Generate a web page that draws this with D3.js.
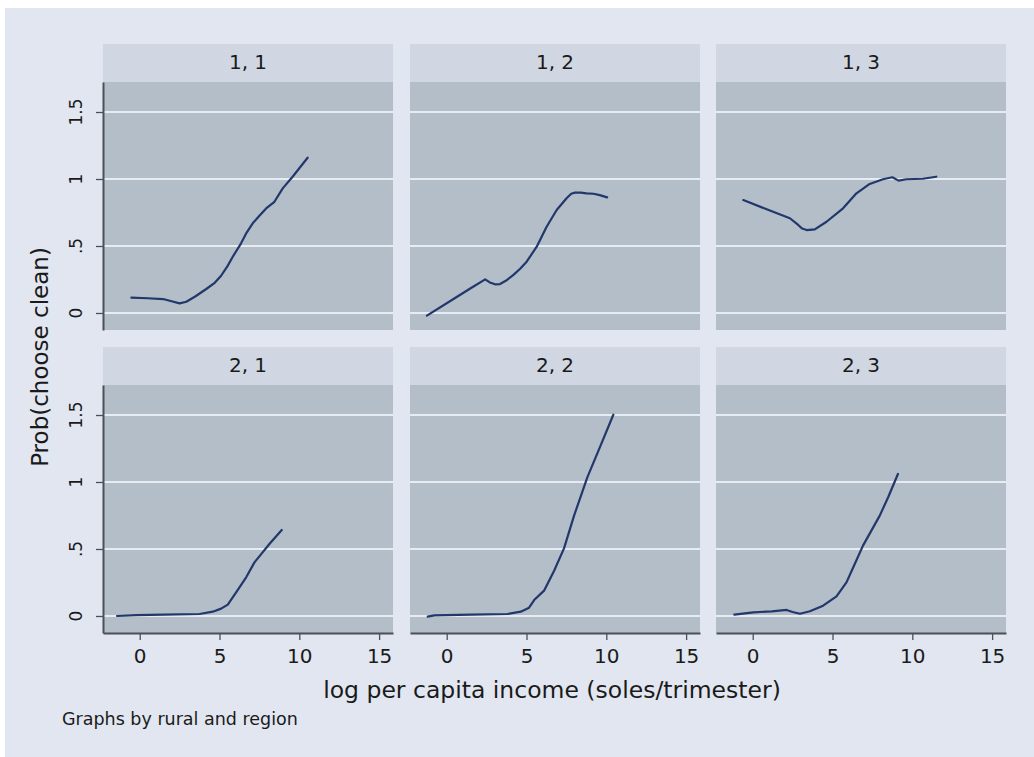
<!DOCTYPE html>
<html>
<head>
<meta charset="utf-8">
<script src="https://cdn.jsdelivr.net/npm/d3@7"></script>
<style>
  html, body { margin: 0; padding: 0; background: #ffffff; }
  svg { display: block; }
  text { font-family: "DejaVu Sans", "Open Sans", sans-serif; fill: #1a1a1a; }
</style>
</head>
<body>
<svg id="chart" width="1034" height="757"></svg>
<script>
// Panel titles: rural, region
const panelLabels = ["1, 1", "1, 2", "1, 3", "2, 1", "2, 2", "2, 3"];

// Axis ticks
const xTicks = [0, 5, 10, 15];
const yTicks = [0, 0.5, 1, 1.5];
const yTickLabels = ["0", ".5", "1", "1.5"];

// Smoothed probability curves, [log income, prob]
const curve11 = [[-0.52,0.114],[0.5,0.11],[1.46,0.104],[2.0,0.088],[2.5,0.072],[2.92,0.084],[3.5,0.125],[4.17,0.179],[4.7,0.225],[5.1,0.278],[5.5,0.35],[5.83,0.42],[6.35,0.52],[6.7,0.6],[7.08,0.669],[7.5,0.725],[7.92,0.78],[8.44,0.83],[8.96,0.93],[9.58,1.017],[10.0,1.08],[10.52,1.159]];
const curve12 = [[-1.24,-0.02],[0.5,0.11],[1.5,0.185],[2.41,0.251],[2.7,0.228],[3.03,0.214],[3.34,0.216],[3.7,0.24],[4.18,0.284],[4.6,0.33],[5.01,0.383],[5.64,0.495],[6.26,0.644],[6.89,0.769],[7.51,0.856],[7.8,0.89],[8.03,0.898],[8.4,0.898],[8.76,0.893],[9.2,0.89],[9.59,0.88],[10.05,0.863]];
const curve13 = [[-0.59,0.843],[0.875,0.774],[2.33,0.707],[2.85,0.657],[3.1,0.63],[3.375,0.619],[3.89,0.624],[4.625,0.681],[5.66,0.781],[6.5,0.893],[7.33,0.963],[8.16,0.998],[8.75,1.013],[9.14,0.988],[9.625,0.998],[10.66,1.002],[11.5,1.017]];
const curve21 = [[-1.42,0.0],[-0.2,0.007],[1.5,0.01],[3.75,0.015],[4.58,0.032],[5.1,0.055],[5.52,0.085],[6.04,0.177],[6.67,0.289],[7.19,0.4],[7.6,0.46],[8.125,0.537],[8.9,0.642]];
const curve22 = [[-1.19,-0.005],[-0.77,0.005],[1.5,0.01],[3.81,0.015],[4.64,0.032],[5.16,0.062],[5.48,0.119],[6.1,0.189],[6.73,0.338],[7.35,0.505],[7.98,0.749],[8.81,1.035],[9.6,1.26],[10.44,1.502]];
const curve23 = [[-1.15,0.01],[0.04,0.027],[1.2,0.035],[2.125,0.045],[2.5,0.03],[2.96,0.017],[3.58,0.035],[4.41,0.077],[5.25,0.147],[5.875,0.251],[6.4,0.39],[6.91,0.525],[7.96,0.749],[8.5,0.89],[9.1,1.06]];
const curves = [curve11, curve12, curve13, curve21, curve22, curve23];

// Layout
const colLeft = [103, 410, 716];
const rowTop = [44, 347];
const panelW = 290;
const headerH = 38;
const plotH = 248;

const svg = d3.select("#chart");

// Frame background (white strip on top/left edges)
svg.append("rect").attr("x", 5).attr("y", 8).attr("width", 1029).attr("height", 749)
  .attr("fill", "#e1e6f0");

const x = d3.scaleLinear().domain([-2.3, 15.87]).range([0, panelW]);
const y = d3.scaleLinear().domain([-0.127, 1.724]).range([plotH, 0]);

const line = d3.line().x(d => x(d[0])).y(d => y(d[1]));

panelLabels.forEach((label, i) => {
  const row = Math.floor(i / 3), col = i % 3;
  const g = svg.append("g").attr("transform", `translate(${colLeft[col]},${rowTop[row]})`);

  // Header strip
  g.append("rect").attr("width", panelW).attr("height", headerH).attr("fill", "#d0d7e2");
  g.append("text").attr("x", panelW / 2).attr("y", headerH / 2 + 6)
    .attr("text-anchor", "middle").style("font-size", "20px").text(label);

  const p = g.append("g").attr("transform", `translate(0,${headerH})`);
  p.append("rect").attr("width", panelW).attr("height", plotH).attr("fill", "#b3bec9");

  // Gridlines
  p.selectAll("line.grid").data(yTicks).join("line").attr("class", "grid")
    .attr("x1", 0).attr("x2", panelW)
    .attr("y1", d => y(d)).attr("y2", d => y(d))
    .attr("stroke", "#e7ebf2").attr("stroke-width", 1.8);

  // Curve
  p.append("path").datum(curves[i]).attr("d", line)
    .attr("fill", "none").attr("stroke", "#22376a").attr("stroke-width", 2.2)
    .attr("stroke-linejoin", "round").attr("stroke-linecap", "round");

  // Left axis on first column
  if (col === 0) {
    const ax = p.append("g").call(d3.axisLeft(y).tickValues(yTicks).tickSize(7).tickSizeOuter(0).tickFormat(() => ""));
    ax.select(".domain").attr("stroke", "#4b5058").attr("stroke-width", 2);
    ax.selectAll(".tick line").attr("stroke", "#4b5058").attr("stroke-width", 1.3);
    p.selectAll("text.ylab").data(yTicks).join("text").attr("class", "ylab")
      .attr("transform", d => `translate(-21,${y(d)}) rotate(-90)`)
      .attr("text-anchor", "middle").style("font-size", "17px")
      .text((d, k) => yTickLabels[k]);
  }

  // Bottom axis on second row
  if (row === 1) {
    const ax = p.append("g").attr("transform", `translate(0,${plotH})`)
      .call(d3.axisBottom(x).tickValues(xTicks).tickSize(7).tickSizeOuter(0).tickFormat(d3.format("d")));
    ax.select(".domain").attr("stroke", "#4b5058").attr("stroke-width", 2);
    ax.selectAll(".tick line").attr("stroke", "#4b5058").attr("stroke-width", 1.3);
    ax.selectAll(".tick text").attr("y", 30).attr("dy", 0)
      .style("font-size", "20px").style("font-family", "DejaVu Sans, sans-serif").attr("fill", "#1a1a1a");
  }
});

// Axis titles and note
svg.append("text").attr("x", 552).attr("y", 698).attr("text-anchor", "middle")
  .style("font-size", "23.5px").text("log per capita income (soles/trimester)");
svg.append("text").attr("transform", "translate(48,357) rotate(-90)").attr("text-anchor", "middle")
  .style("font-size", "23px").text("Prob(choose clean)");
svg.append("text").attr("x", 62).attr("y", 725)
  .style("font-size", "17.5px").text("Graphs by rural and region");
</script>
</body>
</html>
